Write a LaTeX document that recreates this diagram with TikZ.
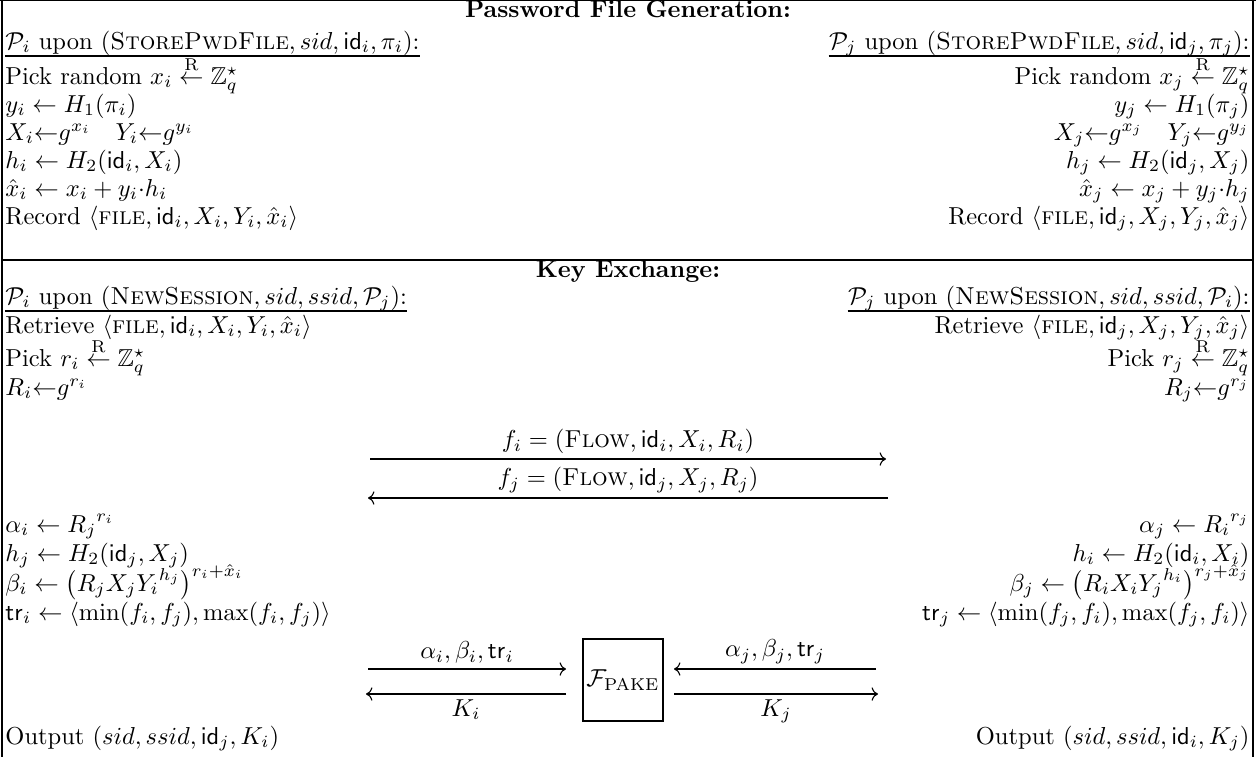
\documentclass[tikz,border=0pt]{standalone}
\usepackage{amsmath,amssymb}
\usetikzlibrary{arrows.meta,calc}
\newcommand{\idf}{\mathsf{id}}
\newcommand{\trf}{\mathsf{tr}}
\newcommand{\rnd}{\stackrel{\mathrm{R}}{\leftarrow}}
\newcommand{\Pp}{\mathcal{P}}
\begin{document}
\begin{tikzpicture}[x=0.408pt,y=-0.408pt,
  lt/.style={anchor=base west,inner sep=0pt},
  rt/.style={anchor=base east,inner sep=0pt},
  ct/.style={anchor=base,inner sep=0pt},
  rule/.style={line width=0.5pt},
  msg/.style={line width=0.45pt,-{Computer Modern Rightarrow[]}},
  fbox/.style={draw,line width=0.5pt,minimum width=32.6pt,minimum height=33.5pt,inner sep=0pt}]
\useasboundingbox (0,0) rectangle (1256,757);
% frame
\draw[rule] (0,0) -- (1256,0);
\draw[rule] (2,0) -- (2,757);
\draw[rule] (1253,0) -- (1253,757);
% Password file generation
\node[ct] (t1) at (628,17) {\textbf{Password File Generation:}};
\node[lt] (a0) at (5,49) {$\Pp_i$ upon $(\textsc{StorePwdFile}, sid, \idf_i, \pi_i)$:};
\node[lt] (a1) at (5,84) {Pick random $x_i \rnd \mathbb{Z}_q^\star$};
\node[lt] (a2) at (5,112) {$y_i \leftarrow H_1(\pi_i)$};
\node[lt] (a3) at (5,140) {$X_i{\leftarrow}g^{x_i} \quad Y_i{\leftarrow}g^{y_i}$};
\node[lt] (a4) at (5,168) {$h_i \leftarrow H_2(\idf_i, X_i)$};
\node[lt] (a5) at (5,196) {$\hat{x}_i \leftarrow x_i + y_i{\cdot}h_i$};
\node[lt] (a6) at (5,224) {Record $\langle\textsc{file}, \idf_i, X_i, Y_i, \hat{x}_i\rangle$};
\node[rt] (b0) at (1250,49) {$\Pp_j$ upon $(\textsc{StorePwdFile}, sid, \idf_j, \pi_j)$:};
\node[rt] (b1) at (1250,84) {Pick random $x_j \rnd \mathbb{Z}_q^\star$};
\node[rt] (b2) at (1250,112) {$y_j \leftarrow H_1(\pi_j)$};
\node[rt] (b3) at (1250,140) {$X_j{\leftarrow}g^{x_j} \quad Y_j{\leftarrow}g^{y_j}$};
\node[rt] (b4) at (1250,168) {$h_j \leftarrow H_2(\idf_j, X_j)$};
\node[rt] (b5) at (1250,196) {$\hat{x}_j \leftarrow x_j + y_j{\cdot}h_j$};
\node[rt] (b6) at (1250,224) {Record $\langle\textsc{file}, \idf_j, X_j, Y_j, \hat{x}_j\rangle$};
\draw[rule] ($(a0.base west)+(0,7)$) -- ($(a0.base east)+(0,7)$);
\draw[rule] ($(b0.base west)+(0,7)$) -- ($(b0.base east)+(0,7)$);
\draw[rule] (2,260) -- (1253,260);
% Key exchange
\node[ct] (t2) at (628,277) {\textbf{Key Exchange:}};
\node[lt] (c0) at (5,304) {$\Pp_i$ upon $(\textsc{NewSession}, sid, ssid, \Pp_j)$:};
\node[lt] (c1) at (5,333) {Retrieve $\langle\textsc{file}, \idf_i, X_i, Y_i, \hat{x}_i\rangle$};
\node[lt] (c2) at (5,366) {Pick $r_i \rnd \mathbb{Z}_q^\star$};
\node[lt] (c3) at (5,395) {$R_i{\leftarrow}g^{r_i}$};
\node[rt] (d0) at (1250,304) {$\Pp_j$ upon $(\textsc{NewSession}, sid, ssid, \Pp_i)$:};
\node[rt] (d1) at (1250,333) {Retrieve $\langle\textsc{file}, \idf_j, X_j, Y_j, \hat{x}_j\rangle$};
\node[rt] (d2) at (1250,366) {Pick $r_j \rnd \mathbb{Z}_q^\star$};
\node[rt] (d3) at (1250,395) {$R_j{\leftarrow}g^{r_j}$};
\draw[rule] ($(c0.base west)+(0,7)$) -- ($(c0.base east)+(0,7)$);
\draw[rule] ($(d0.base west)+(0,7)$) -- ($(d0.base east)+(0,7)$);
% flows
\coordinate (f1) at (370,459);
\coordinate (f2) at (886,459);
\coordinate (g1) at (368,498);
\coordinate (g2) at (888,498);
\draw[msg] (f1) -- node[above,inner sep=2pt] {$f_i = (\textsc{Flow}, \idf_i, X_i, R_i)$} (f2);
\draw[msg] (g2) -- node[above,inner sep=2pt] {$f_j = (\textsc{Flow}, \idf_j, X_j, R_j)$} (g1);
% computations
\node[lt] (e0) at (5,532) {$\alpha_i \leftarrow {R_j}^{r_i}$};
\node[lt] (e1) at (5,561) {$h_j \leftarrow H_2(\idf_j, X_j)$};
\node[lt] (e2) at (5,591) {$\beta_i \leftarrow \big(R_j X_j {Y_i}^{h_j}\big)^{r_i+\hat{x}_i}$};
\node[lt] (e3) at (5,620) {$\trf_i \leftarrow \langle \min(f_i, f_j), \max(f_i, f_j)\rangle$};
\node[rt] (h0) at (1250,532) {$\alpha_j \leftarrow {R_i}^{r_j}$};
\node[rt] (h1) at (1250,561) {$h_i \leftarrow H_2(\idf_i, X_i)$};
\node[rt] (h2) at (1250,591) {$\beta_j \leftarrow \big(R_i X_i {Y_j}^{h_i}\big)^{r_j+\hat{x}_j}$};
\node[rt] (h3) at (1250,620) {$\trf_j \leftarrow \langle \min(f_j, f_i), \max(f_j, f_i)\rangle$};
% F_PAKE
\node[fbox] (F) at (623,680) {$\mathcal{F}_{\mathrm{PAKE}}$};
\coordinate (l1) at (368,669);
\coordinate (l2) at (566,669);
\coordinate (l3) at (366,694);
\coordinate (l4) at (566,694);
\coordinate (r1) at (674,669);
\coordinate (r2) at (876,669);
\coordinate (r3) at (674,694);
\coordinate (r4) at (878,694);
\draw[msg] (l1) -- node[above,inner sep=2pt] {$\alpha_i, \beta_i, \trf_i$} (l2);
\draw[msg] (l4) -- node[below,inner sep=2pt] {$K_i$} (l3);
\draw[msg] (r2) -- node[above,inner sep=2pt] {$\alpha_j, \beta_j, \trf_j$} (r1);
\draw[msg] (r3) -- node[below,inner sep=2pt] {$K_j$} (r4);
% output
\node[lt] (o1) at (5,744) {Output $(sid, ssid, \idf_j, K_i)$};
\node[rt] (o2) at (1250,744) {Output $(sid, ssid, \idf_i, K_j)$};
\end{tikzpicture}
\end{document}
